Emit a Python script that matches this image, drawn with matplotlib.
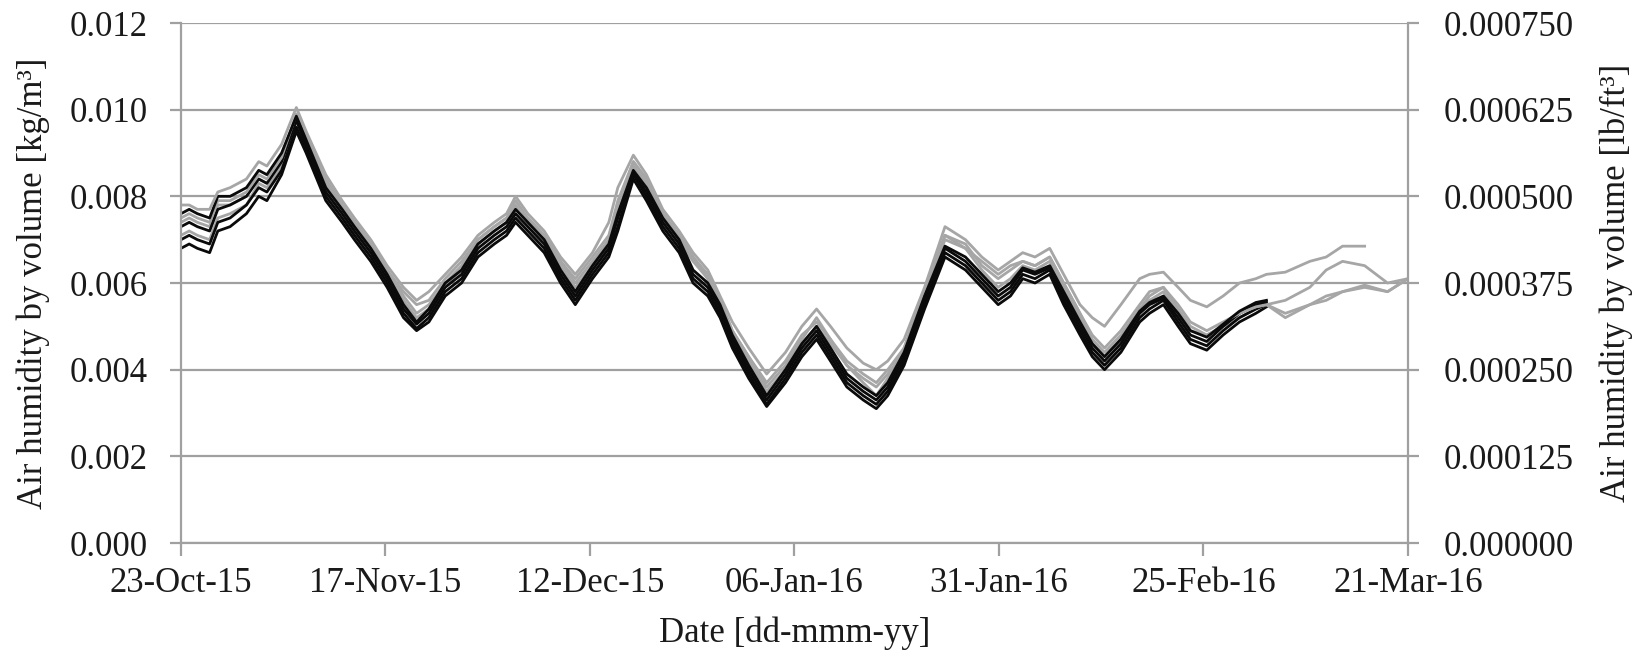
import matplotlib
matplotlib.use('Agg')
import matplotlib.pyplot as plt
import matplotlib.dates as mdates
import pandas as pd

plt.rcParams['font.family'] = ['Liberation Serif', 'DejaVu Serif']

start = pd.Timestamp('2015-10-23')

days = [0, 1, 2, 3.5, 4.5, 6, 8, 9.5, 10.5, 12.3,
        14.1, 15.3, 17.7, 19.7, 21.2, 23.2, 25.2, 27.2, 28.8, 30.3,
        32.3, 34.3, 36.3, 38.3, 39.8, 40.9, 42.4, 44.4, 46.4, 48.2,
        50.3, 52.3, 53.4, 55.3, 56.9, 58.9, 60.9, 62.6, 64.4, 65.9,
        67.4, 69.4, 71.6, 73.9, 75.9, 77.7, 79.4, 81.4, 83.4, 85.0,
        86.4, 88.4, 90.9, 93.4, 95.9, 97.9, 99.9, 101.4, 102.9, 104.4,
        106.2, 107.9, 109.9, 111.4, 112.9, 114.9, 117.2, 118.4, 120.1, 121.9,
        123.4, 125.4, 127.4, 129.4, 131.4, 132.7]
days_g1 = days + [135, 138, 140, 142, 144.7]
days_long = days + [135, 138, 140, 142, 144.7, 147.5, 150]

# humidity in g/m3 - black sensors
black_1 = [6.8, 6.9, 6.8, 6.7, 7.2, 7.3, 7.6, 8.0, 7.9, 8.5,
           9.5, 9.0, 7.9, 7.4, 7.0, 6.5, 5.9, 5.2, 4.9, 5.1,
           5.7, 6.0, 6.6, 6.9, 7.1, 7.4, 7.1, 6.7, 6.0, 5.5,
           6.1, 6.6, 7.2, 8.4, 7.9, 7.2, 6.7, 6.0, 5.7, 5.2,
           4.5, 3.8, 3.15, 3.7, 4.3, 4.7, 4.2, 3.6, 3.3, 3.1,
           3.4, 4.1, 5.4, 6.6, 6.3, 5.9, 5.5, 5.7, 6.1, 6.0,
           6.2, 5.5, 4.8, 4.3, 4.0, 4.4, 5.1, 5.3, 5.5, 5.0,
           4.6, 4.45, 4.8, 5.1, 5.3, 5.45]
black_2 = [7.0, 7.1, 7.0, 6.9, 7.4, 7.5, 7.8, 8.2, 8.1, 8.6,
           9.6, 9.1, 8.0, 7.5, 7.1, 6.6, 6.0, 5.3, 4.95, 5.2,
           5.8, 6.1, 6.7, 7.0, 7.2, 7.5, 7.2, 6.8, 6.1, 5.6,
           6.2, 6.7, 7.3, 8.5, 8.0, 7.3, 6.8, 6.1, 5.8, 5.3,
           4.6, 3.9, 3.2, 3.8, 4.4, 4.8, 4.3, 3.7, 3.4, 3.2,
           3.5, 4.2, 5.5, 6.7, 6.4, 6.0, 5.6, 5.8, 6.2, 6.1,
           6.3, 5.6, 4.9, 4.4, 4.1, 4.5, 5.2, 5.4, 5.6, 5.1,
           4.7, 4.55, 4.9, 5.2, 5.4, 5.5]
black_3 = [7.3, 7.4, 7.3, 7.2, 7.7, 7.8, 8.0, 8.4, 8.3, 8.8,
           9.75, 9.2, 8.1, 7.6, 7.2, 6.7, 6.1, 5.4, 5.05, 5.3,
           5.9, 6.2, 6.8, 7.1, 7.3, 7.6, 7.3, 6.9, 6.2, 5.7,
           6.3, 6.8, 7.5, 8.55, 8.1, 7.4, 6.9, 6.2, 5.9, 5.4,
           4.7, 4.0, 3.3, 3.9, 4.5, 4.9, 4.4, 3.8, 3.5, 3.3,
           3.6, 4.3, 5.6, 6.8, 6.5, 6.1, 5.7, 5.9, 6.3, 6.2,
           6.35, 5.7, 5.0, 4.5, 4.2, 4.6, 5.3, 5.5, 5.65, 5.2,
           4.8, 4.65, 5.0, 5.3, 5.5, 5.55]
black_4 = [7.6, 7.7, 7.6, 7.5, 8.0, 8.0, 8.2, 8.6, 8.5, 9.0,
           9.85, 9.3, 8.2, 7.7, 7.3, 6.8, 6.2, 5.5, 5.1, 5.4,
           6.0, 6.3, 6.9, 7.2, 7.4, 7.7, 7.4, 7.0, 6.3, 5.8,
           6.4, 6.9, 7.6, 8.6, 8.2, 7.5, 7.0, 6.3, 6.0, 5.5,
           4.8, 4.1, 3.4, 4.0, 4.6, 5.0, 4.5, 3.9, 3.6, 3.4,
           3.7, 4.4, 5.7, 6.85, 6.6, 6.2, 5.8, 6.0, 6.35, 6.25,
           6.4, 5.8, 5.1, 4.6, 4.3, 4.7, 5.35, 5.55, 5.7, 5.3,
           4.9, 4.75, 5.05, 5.35, 5.55, 5.6]

# grey sensors
grey_1 = [7.8, 7.8, 7.7, 7.7, 8.1, 8.2, 8.4, 8.8, 8.7, 9.2,
          10.05, 9.5, 8.5, 7.9, 7.5, 7.0, 6.4, 5.9, 5.6, 5.8,
          6.2, 6.6, 7.1, 7.4, 7.6, 8.0, 7.6, 7.2, 6.6, 6.2,
          6.7, 7.4, 8.2, 8.95, 8.5, 7.7, 7.2, 6.7, 6.3, 5.7,
          5.1, 4.5, 3.9, 4.4, 5.0, 5.4, 5.0, 4.5, 4.15, 4.0,
          4.2, 4.7, 5.9, 7.3, 7.0, 6.6, 6.3, 6.5, 6.7, 6.6,
          6.8, 6.2, 5.5, 5.2, 5.0, 5.5, 6.1, 6.2, 6.25, 5.9,
          5.6, 5.45, 5.7, 6.0, 6.1, 6.2,
          6.25, 6.5, 6.6, 6.85, 6.85]
grey_2 = [7.5, 7.6, 7.5, 7.4, 7.9, 7.9, 8.1, 8.5, 8.4, 8.9,
          9.9, 9.4, 8.4, 7.8, 7.4, 6.9, 6.3, 5.7, 5.3, 5.5,
          6.0, 6.4, 7.0, 7.3, 7.5, 7.9, 7.5, 7.1, 6.5, 6.1,
          6.6, 7.1, 7.9, 8.8, 8.4, 7.6, 7.1, 6.6, 6.2, 5.6,
          4.9, 4.3, 3.6, 4.1, 4.7, 5.2, 4.7, 4.1, 3.7, 3.4,
          3.8, 4.5, 5.8, 7.1, 6.9, 6.4, 6.1, 6.3, 6.5, 6.4,
          6.6, 6.0, 5.3, 4.8, 4.5, 4.9, 5.5, 5.8, 5.9, 5.5,
          5.1, 4.9, 5.1, 5.3, 5.45, 5.5,
          5.6, 5.9, 6.3, 6.5, 6.4, 6.0, 6.1]
grey_3 = [7.1, 7.2, 7.1, 7.0, 7.5, 7.6, 7.8, 8.3, 8.2, 8.7,
          9.8, 9.3, 8.3, 7.7, 7.3, 6.8, 6.2, 5.6, 5.2, 5.4,
          5.95, 6.3, 6.9, 7.2, 7.4, 7.8, 7.4, 7.0, 6.4, 5.9,
          6.4, 6.9, 7.6, 8.7, 8.3, 7.5, 7.0, 6.5, 6.1, 5.5,
          4.8, 4.2, 3.5, 4.0, 4.6, 5.0, 4.6, 4.1, 3.8, 3.6,
          3.9, 4.4, 5.7, 7.0, 6.8, 6.3, 5.9, 6.1, 6.4, 6.3,
          6.5, 5.9, 5.2, 4.6, 4.3, 4.7, 5.4, 5.6, 5.8, 5.3,
          4.9, 4.8, 5.0, 5.2, 5.4, 5.5,
          5.2, 5.5, 5.6, 5.8, 5.9, 5.8, 6.1]
grey_4 = [7.4, 7.5, 7.4, 7.3, 7.8, 7.8, 8.0, 8.4, 8.3, 8.8,
          9.9, 9.35, 8.3, 7.8, 7.4, 6.9, 6.3, 5.8, 5.5, 5.6,
          6.1, 6.5, 7.0, 7.3, 7.5, 7.7, 7.5, 7.1, 6.5, 6.0,
          6.5, 7.0, 7.8, 8.8, 8.4, 7.6, 7.1, 6.6, 6.1, 5.6,
          4.9, 4.3, 3.7, 4.2, 4.8, 5.1, 4.7, 4.2, 3.9, 3.7,
          4.0, 4.5, 5.8, 7.1, 6.8, 6.5, 6.2, 6.4, 6.5, 6.4,
          6.6, 6.0, 5.3, 4.7, 4.4, 4.8, 5.4, 5.7, 5.9, 5.4,
          5.0, 4.8, 5.0, 5.3, 5.45, 5.5,
          5.3, 5.5, 5.7, 5.8, 5.95, 5.8, 6.1]

tick_dates = ['2015-10-23', '2015-11-17', '2015-12-12', '2016-01-06',
              '2016-01-31', '2016-02-25', '2016-03-21']
left_ticks = [0.000, 0.002, 0.004, 0.006, 0.008, 0.010, 0.012]
right_ticks = [0.0, 0.000125, 0.000250, 0.000375, 0.000500, 0.000625, 0.000750]


def to_dates(d):
    return start + pd.to_timedelta(d, unit='D')


def kg(vals):
    return [v / 1000.0 for v in vals]


BLACK = '#0a0a0a'
GREY = '#a6a6a6'
GRID = '#a0a0a0'
TXT = '#1a1a1a'

fig = plt.figure(figsize=(16.43, 6.66), dpi=100)
ax = fig.add_axes([181 / 1643, 1 - 543 / 666, (1408 - 181) / 1643, (543 - 23) / 666])

lw = 2.0
ax.plot(to_dates(days), kg(black_1), color=BLACK, lw=lw)
ax.plot(to_dates(days_long), kg(grey_3), color=GREY, lw=lw)
ax.plot(to_dates(days), kg(black_2), color=BLACK, lw=lw)
ax.plot(to_dates(days_long), kg(grey_4), color=GREY, lw=lw)
ax.plot(to_dates(days), kg(black_3), color=BLACK, lw=lw)
ax.plot(to_dates(days_long), kg(grey_2), color=GREY, lw=lw)
ax.plot(to_dates(days), kg(black_4), color=BLACK, lw=lw)
ax.plot(to_dates(days_g1), kg(grey_1), color=GREY, lw=lw)

ax.set_xlim(pd.Timestamp(tick_dates[0]), pd.Timestamp(tick_dates[-1]))
ax.set_ylim(0, 0.012)
ax.set_xticks([pd.Timestamp(t) for t in tick_dates])
ax.xaxis.set_major_formatter(mdates.DateFormatter('%d-%b-%y'))
ax.set_yticks(left_ticks)
ax.yaxis.set_major_formatter(plt.FormatStrFormatter('%.3f'))
ax.grid(axis='y', color=GRID, lw=1.6)
ax.set_axisbelow(True)

for s in ['left', 'bottom', 'right']:
    ax.spines[s].set_color(GRID)
    ax.spines[s].set_linewidth(1.6)
ax.spines['top'].set_visible(False)

ax.tick_params(axis='x', direction='out', length=9, width=1.6, color=GRID,
               labelsize=25, pad=8, labelcolor=TXT)
ax.tick_params(axis='y', direction='out', length=8, width=1.6, color=GRID,
               labelsize=25, pad=16, labelcolor=TXT)

ax.set_xlabel('Date [dd-mmm-yy]', fontsize=25, color=TXT, labelpad=12)
ax.set_ylabel('Air humidity by volume [kg/m³]', fontsize=25, color=TXT, labelpad=14)

ax2 = ax.twinx()
ax2.set_ylim(0, 0.00075)
ax2.set_yticks(right_ticks)
ax2.yaxis.set_major_formatter(plt.FormatStrFormatter('%.6f'))
for s in ['left', 'bottom', 'right', 'top']:
    ax2.spines[s].set_visible(False)
ax2.tick_params(axis='y', direction='out', length=8, width=1.6, color=GRID,
                labelsize=25, pad=18, labelcolor=TXT)
ax2.set_ylabel('Air humidity by volume [lb/ft³]', fontsize=25, color=TXT, labelpad=18)

fig.savefig('out.png', dpi=100)
